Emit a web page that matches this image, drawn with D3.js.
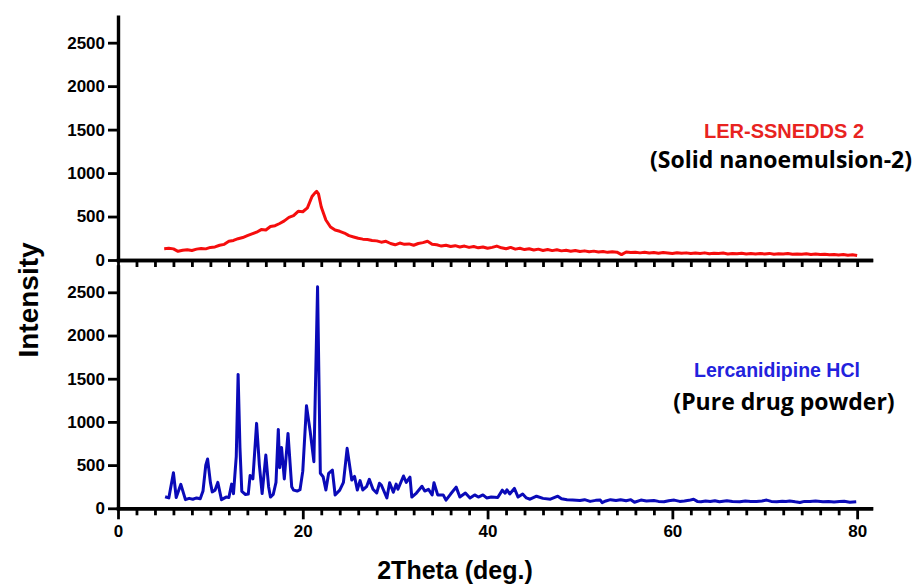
<!DOCTYPE html>
<html>
<head>
<meta charset="utf-8">
<script src="https://cdn.jsdelivr.net/npm/d3@7"></script>
<style>
	body { margin: 0; background: #fff; }
	svg text { font-family: "Liberation Sans", Arial, sans-serif; font-weight: bold; }
</style>
</head>
<body>
<svg id="chart" width="916" height="588"></svg>
<script>
// LER-SSNEDDS 2 pattern, [2theta, intensity]
var lerSsnedds = [
	[5,130],[5.5,135],[6,128],[6.5,100],[7,112],[7.5,118],[8,110],[8.5,125],[9,132],[9.5,128],
	[10,145],[10.5,150],[11,170],[11.5,180],[12,215],[12.5,225],[13,245],[13.5,258],[14,280],[14.5,300],
	[15,320],[15.5,350],[16,345],[16.5,385],[17,395],[17.5,420],[18,450],[18.5,490],[19,510],[19.5,560],
	[20,555],[20.5,600],[21,730],[21.3,770],[21.5,790],[21.7,760],[22,610],[22.5,460],[23,380],[23.5,345],
	[24,330],[24.5,310],[25,280],[25.5,265],[26,250],[26.5,240],[27,235],[27.5,225],[28,220],[28.5,205],
	[29,215],[29.5,190],[30,175],[30.5,195],[31,180],[31.5,185],[32,170],[32.5,190],[33,200],[33.5,215],
	[34,180],[34.5,175],[35,160],[35.5,170],[36,155],[36.5,165],[37,150],[37.5,160],[38,145],[38.5,155],
	[39,140],[39.5,150],[40,135],[40.5,145],[41,160],[41.5,140],[42,130],[42.5,145],[43,125],[43.5,135],
	[44,120],[44.5,130],[45,115],[45.5,125],[46,110],[46.5,120],[47,108],[47.5,118],[48,105],[48.5,112],
	[49,100],[49.5,110],[50,98],[50.5,105],[51,95],[51.5,102],[52,92],[52.5,98],[53,88],[53.5,95],
	[54,90],[54.5,62],[55,92],[55.5,85],[56,90],[56.5,82],[57,88],[57.5,80],[58,85],[58.5,78],
	[59,86],[59.5,80],[60,75],[60.5,84],[61,78],[61.5,82],[62,74],[62.5,80],[63,76],[63.5,82],
	[64,72],[64.5,78],[65,74],[65.5,80],[66,70],[66.5,76],[67,72],[67.5,78],[68,70],[68.5,75],
	[69,68],[69.5,74],[70,70],[70.5,76],[71,66],[71.5,72],[72,68],[72.5,74],[73,65],[73.5,70],
	[74,66],[74.5,72],[75,64],[75.5,68],[76,62],[76.5,66],[77,60],[77.5,64],[78,58],[78.5,62],
	[79,55],[79.5,60],[80,52]
];

// Lercanidipine HCl pattern, [2theta, intensity]
var lercanidipine = [
	[5.1,134],[5.5,120],[6,412],[6.3,125],[6.8,277],[7.3,100],[7.7,115],[8.1,105],[8.5,120],[8.9,110],
	[9.2,200],[9.5,500],[9.7,570],[10,300],[10.2,190],[10.5,210],[10.8,300],[11.2,100],[11.7,130],[12,125],
	[12.3,280],[12.5,170],[12.8,600],[13,1550],[13.2,700],[13.4,195],[13.8,160],[14.1,165],[14.3,380],[14.6,340],
	[15,983],[15.3,500],[15.6,170],[16,616],[16.3,250],[16.5,130],[16.8,160],[17.1,300],[17.35,913],[17.5,470],
	[17.7,705],[18,340],[18.4,867],[18.8,250],[19,210],[19.4,200],[19.7,215],[20,430],[20.4,1187],[20.8,890],
	[21.2,540],[21.6,2564],[21.9,405],[22.2,366],[22.5,212],[22.8,405],[23.2,443],[23.5,154],[24,210],[24.4,300],
	[24.8,694],[25.3,327],[25.6,370],[25.9,212],[26.2,320],[26.5,212],[26.9,250],[27.2,335],[27.6,220],[28,177],
	[28.3,290],[28.5,270],[29.1,120],[29.4,296],[29.8,185],[30.1,280],[30.3,220],[30.9,374],[31.2,300],[31.6,360],
	[31.8,130],[32.3,177],[32.9,255],[33.2,200],[33.6,220],[34,155],[34.2,296],[34.6,155],[35.2,155],[35.5,95],
	[36,165],[36.6,245],[37,130],[37.6,177],[38.1,120],[38.6,155],[39,130],[39.5,155],[39.9,120],[40.4,130],
	[41.1,125],[41.6,210],[41.9,175],[42.1,215],[42.4,165],[42.9,230],[43.3,130],[43.8,165],[44.2,120],[44.6,105],
	[45.3,140],[46,115],[46.8,105],[47.6,140],[48,110],[48.6,100],[49.2,95],[50,90],[50.5,100],[51.1,80],
	[51.7,92],[52.2,95],[52.4,65],[52.8,85],[53.3,100],[53.9,90],[54.4,100],[55,88],[55.5,100],[55.9,70],
	[56.6,95],[57.2,85],[58,90],[58.5,80],[59.1,75],[59.6,88],[60.2,95],[60.8,80],[61.3,85],[61.8,92],
	[62.3,105],[62.7,80],[63.1,75],[63.6,85],[64.1,78],[64.6,88],[65.1,75],[65.5,82],[65.9,88],[66.5,78],
	[67.3,75],[67.9,85],[68.5,80],[69.1,78],[69.7,85],[70.2,95],[70.7,80],[71.3,75],[71.9,82],[72.3,78],
	[72.7,85],[73.3,75],[73.8,68],[74.3,80],[74.9,78],[75.5,85],[76.3,75],[76.9,80],[77.5,72],[78.1,78],
	[78.6,82],[79.2,70],[79.9,75]
];

var yTicks = [0, 500, 1000, 1500, 2000, 2500];
var xMajorTicks = [0, 20, 40, 60, 80];
var xMinorTicks = [2,4,6,8,10,12,14,16,18,22,24,26,28,30,32,34,36,38,42,44,46,48,50,52,54,56,58,62,64,66,68,70,72,74,76,78];

var svg = d3.select('#chart');

var x = d3.scaleLinear().domain([0, 81.5]).range([118, 871]);

var panels = [
	{data: lerSsnedds, color: '#f50d0d', y: d3.scaleLinear().domain([0, 2800]).range([260, 16.6]), labels: false},
	{data: lercanidipine, color: '#0a0ab8', y: d3.scaleLinear().domain([0, 2800]).range([508.3, 266.4]), labels: true}
];

panels.forEach(function(p){

	var g = svg.append('g');
	var base = p.y(0);

	// data
	g.append('path')
		.datum(p.data)
		.attr('fill', 'none')
		.attr('stroke', p.color)
		.attr('stroke-width', 3)
		.attr('stroke-linejoin', 'round')
		.attr('d', d3.line().x(d=>x(d[0])).y(d=>p.y(d[1])));

	// y axis
	g.append('g')
		.attr('transform', 'translate(' + x(0) + ',0)')
		.call(d3.axisLeft(p.y).tickValues(yTicks).tickSize(10).tickSizeOuter(0).tickPadding(3).tickFormat(d3.format('d')));

	// x axis, minor then major
	g.append('g')
		.attr('transform', 'translate(0,' + base + ')')
		.call(d3.axisBottom(x).tickValues(xMinorTicks).tickSize(7).tickSizeOuter(0).tickFormat(''));

	g.append('g')
		.attr('transform', 'translate(0,' + base + ')')
		.call(d3.axisBottom(x).tickValues(xMajorTicks).tickSize(p.labels ? 11 : 7).tickSizeOuter(0).tickPadding(6)
			.tickFormat(p.labels ? d3.format('d') : ''));

	g.selectAll('.domain').attr('stroke', '#000').attr('stroke-width', 3.4).attr('stroke-linecap', 'square');
	g.selectAll('.tick line').attr('stroke', '#000').attr('stroke-width', 2.8);
	g.selectAll('.tick text')
		.attr('fill', '#000')
		.style('font-size', '17px')
		.style('font-family', '"Liberation Sans", Arial, sans-serif')
		.style('font-weight', 'bold');
});

// axis titles
svg.append('text')
	.attr('transform', 'translate(38,300) rotate(-90)')
	.attr('text-anchor', 'middle')
	.style('font-size', '28px')
	.text('Intensity');

svg.append('text')
	.attr('x', 455)
	.attr('y', 579)
	.attr('text-anchor', 'middle')
	.style('font-size', '25px')
	.text('2Theta (deg.)');

// sample labels
var notes = [
	{text: 'LER-SSNEDDS 2', x: 784, y: 138, size: 20, color: '#e8231f', font: '"Liberation Sans", Arial, sans-serif'},
	{text: '(Solid nanoemulsion-2)', x: 781, y: 168, size: 23, color: '#000', font: '"Open Sans", sans-serif'},
	{text: 'Lercanidipine HCl', x: 777, y: 377, size: 19.5, color: '#2222dd', font: '"Liberation Sans", Arial, sans-serif'},
	{text: '(Pure drug powder)', x: 784, y: 410, size: 23, color: '#000', font: '"Open Sans", sans-serif'}
];

svg.selectAll('.note')
	.data(notes)
	.enter()
	.append('text')
	.attr('class', 'note')
	.attr('x', d=>d.x)
	.attr('y', d=>d.y)
	.attr('text-anchor', 'middle')
	.attr('fill', d=>d.color)
	.style('font-family', d=>d.font)
	.style('font-size', d=>d.size + 'px')
	.text(d=>d.text);
</script>
</body>
</html>
